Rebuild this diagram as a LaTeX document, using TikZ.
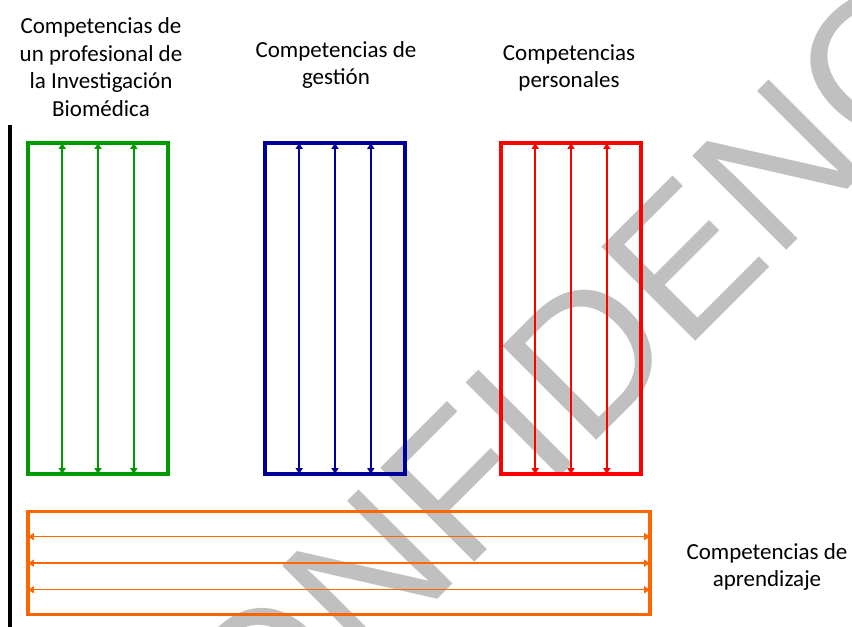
\documentclass[tikz,border=0pt]{standalone}
\usepackage{fontspec}
\setmainfont{Carlito}
\newfontfamily\marcafont{Liberation Sans}
\usetikzlibrary{arrows.meta,positioning,calc}
\definecolor{cverde}{RGB}{0,153,0}
\definecolor{cazul}{RGB}{0,0,153}
\definecolor{crojo}{RGB}{255,0,0}
\definecolor{cnaranja}{RGB}{255,102,0}
\definecolor{cmarca}{RGB}{192,192,192}
\tikzstyle{caja} = [draw, line width=2.4pt, minimum width=105pt, minimum height=248.25pt, inner sep=0pt]
\tikzstyle{flecha} = [line width=1.1pt, {Latex[length=5pt,width=6pt]}-{Latex[length=5pt,width=6pt]}, shorten <=0.6pt, shorten >=0.6pt]
\tikzstyle{etiqueta} = [align=center, inner sep=0pt, font=\fontsize{17.25}{20.6}\selectfont]

\begin{document}
\begin{tikzpicture}[x=0.75pt,y=0.75pt]
\useasboundingbox (0,0) rectangle (852,627);

% marca de agua
\begin{scope}
\clip (0,0) rectangle (852,627);
\node[anchor=base west, rotate=45, inner sep=0pt, text=cmarca, font=\marcafont\fontsize{145}{145}\selectfont] (marca) at (160,-250) {CONFIDENCIAL};
\end{scope}

% eje
\draw[line width=3pt] (10,502) -- (10,0);

% cajas
\node[caja, cverde] (verde) at (98,318.5) {};
\node[caja, cazul] (azul) at (335,318.5) {};
\node[caja, crojo] (rojo) at (571,318.5) {};
\node[caja, cnaranja, minimum width=466.5pt, minimum height=77.25pt] (naranja) at (339,63.8) {};

% flechas
\foreach \f in {0.25,0.5,0.75} {
  \draw[flecha, cverde] ($(verde.south west)!\f!(verde.south east)$) -- ($(verde.north west)!\f!(verde.north east)$);
  \draw[flecha, cazul] ($(azul.south west)!\f!(azul.south east)$) -- ($(azul.north west)!\f!(azul.north east)$);
  \draw[flecha, crojo] ($(rojo.south west)!\f!(rojo.south east)$) -- ($(rojo.north west)!\f!(rojo.north east)$);
  \draw[flecha, cnaranja] ($(naranja.south west)!\f!(naranja.north west)$) -- ($(naranja.south east)!\f!(naranja.north east)$);
}

% etiquetas
\node[etiqueta] (lverde) at (101,560) {Competencias de\\un profesional de\\la Investigación\\Biomédica};
\node[etiqueta] (lazul) at (336,562) {Competencias de\\gestión};
\node[etiqueta] (lrojo) at (569,559) {Competencias\\personales};
\node[etiqueta] (lnaranja) at (767,60) {Competencias de\\aprendizaje};
\end{tikzpicture}
\end{document}
